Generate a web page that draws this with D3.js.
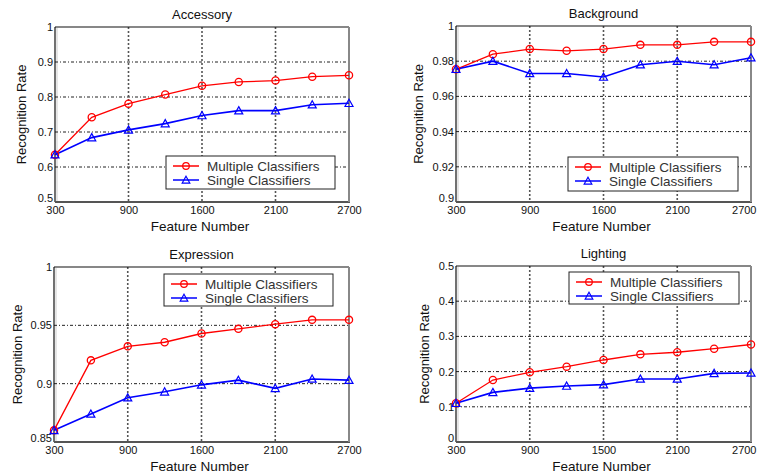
<!DOCTYPE html>
<html>
<head>
<meta charset="utf-8">
<script src="https://cdn.jsdelivr.net/npm/d3@7"></script>
<style>
  html, body { margin: 0; padding: 0; background: #fff; }
  svg { display: block; font-family: "Liberation Sans", Arial, Helvetica, sans-serif; }
</style>
</head>
<body>
<svg id="chart" width="757" height="475"></svg>
<script>
// ---------- DATA ----------
const features = [300, 600, 900, 1200, 1500, 1800, 2100, 2400, 2700];
const xTickValues = [300, 900, 1500, 2100, 2700];

const titles = ["Accessory", "Background", "Expression", "Lighting"];
const seriesNames = ["Multiple Classifiers", "Single Classifiers"];

const accessoryMultiple = [0.635, 0.742, 0.781, 0.807, 0.832, 0.843, 0.847, 0.858, 0.862];
const accessorySingle   = [0.635, 0.684, 0.706, 0.724, 0.747, 0.761, 0.761, 0.778, 0.782];

const backgroundMultiple = [0.9754, 0.9840, 0.9869, 0.9859, 0.9869, 0.9893, 0.9893, 0.9910, 0.9910];
const backgroundSingle   = [0.9754, 0.9800, 0.9730, 0.9730, 0.9710, 0.9780, 0.9800, 0.9780, 0.9820];

const expressionMultiple = [0.860, 0.920, 0.932, 0.9355, 0.943, 0.947, 0.951, 0.9547, 0.9547];
const expressionSingle   = [0.860, 0.874, 0.888, 0.893, 0.899, 0.903, 0.896, 0.904, 0.903];

const lightingMultiple = [0.110, 0.176, 0.198, 0.214, 0.233, 0.249, 0.255, 0.265, 0.277];
const lightingSingle   = [0.110, 0.141, 0.153, 0.159, 0.163, 0.179, 0.179, 0.195, 0.196];

const accessoryYTicks  = [0.5, 0.6, 0.7, 0.8, 0.9, 1];
const backgroundYTicks = [0.9, 0.92, 0.94, 0.96, 0.98, 1];
const expressionYTicks = [0.85, 0.9, 0.95, 1];
const lightingYTicks   = [0, 0.1, 0.2, 0.3, 0.4, 0.5];

const accessoryXLabels  = ["300", "900", "1600", "2100", "2700"];
const backgroundXLabels = ["300", "900", "1600", "2100", "2700"];
const expressionXLabels = ["300", "900", "1600", "2100", "2700"];
const lightingXLabels   = ["300", "900", "1500", "2100", "2700"];

// ---------- LAYOUT ----------
const panels = [
  { title: titles[0], multi: accessoryMultiple, single: accessorySingle, yTicks: accessoryYTicks, xLabels: accessoryXLabels,
    box: { l: 55, r: 349, t: 27, b: 202 }, legend: { x: 166, y: 156, w: 169, h: 33 }, ylabOff: 34 },
  { title: titles[1], multi: backgroundMultiple, single: backgroundSingle, yTicks: backgroundYTicks, xLabels: backgroundXLabels,
    box: { l: 456, r: 751, t: 26, b: 202 }, legend: { x: 568, y: 157, w: 170, h: 34 }, ylabOff: 38 },
  { title: titles[2], multi: expressionMultiple, single: expressionSingle, yTicks: expressionYTicks, xLabels: expressionXLabels,
    box: { l: 54, r: 349, t: 267, b: 442 }, legend: { x: 164, y: 274, w: 169, h: 32 }, ylabOff: 37 },
  { title: titles[3], multi: lightingMultiple, single: lightingSingle, yTicks: lightingYTicks, xLabels: lightingXLabels,
    box: { l: 456, r: 751, t: 266, b: 442 }, legend: { x: 569, y: 272, w: 170, h: 32 }, ylabOff: 32 }
];

const RED = "#ff0000", BLUE = "#0000ff";
const svg = d3.select("#chart");
const W = 757;

function fmtY(v) {
  if (v === 0 || v === 1) return String(v);
  return String(+v.toFixed(2));
}

function triPath(cx, cy, s) {
  return `M${cx},${cy - s}L${cx + s},${cy + s * 0.8}L${cx - s},${cy + s * 0.8}Z`;
}

panels.forEach(p => {
  const { l, r, t, b } = p.box;
  const x = d3.scaleLinear().domain([features[0], features[features.length - 1]]).range([l, r]);
  const y = d3.scaleLinear().domain([p.yTicks[0], p.yTicks[p.yTicks.length - 1]]).range([b, t]);
  const g = svg.append("g");

  // background
  g.append("rect").attr("x", l).attr("y", t).attr("width", r - l).attr("height", b - t).attr("fill", "#fff");
  g.append("rect").attr("x", l + 1).attr("y", t + 1).attr("width", 2).attr("height", b - t - 2).attr("fill", "#e6e6e6");

  // grid: horizontal
  g.append("g").selectAll("line").data(p.yTicks.slice(1, -1)).join("line")
    .attr("x1", l).attr("x2", r).attr("y1", d => y(d)).attr("y2", d => y(d))
    .attr("stroke", "#222").attr("stroke-width", 1).attr("stroke-dasharray", "3,2,1,2");
  // grid: vertical
  g.append("g").selectAll("line").data(xTickValues.slice(1, -1)).join("line")
    .attr("x1", d => x(d)).attr("x2", d => x(d)).attr("y1", t).attr("y2", b)
    .attr("stroke", "#555").attr("stroke-width", 1.6).attr("stroke-dasharray", "2,2");

  // frame
  g.append("line").attr("x1", l).attr("x2", r).attr("y1", t).attr("y2", t).attr("stroke", "#111").attr("stroke-width", 1.2);
  g.append("line").attr("x1", l).attr("x2", l).attr("y1", t).attr("y2", b).attr("stroke", "#111").attr("stroke-width", 1.2);
  g.append("line").attr("x1", l).attr("x2", r + 1).attr("y1", b).attr("y2", b).attr("stroke", "#555").attr("stroke-width", 2);
  g.append("line").attr("x1", r).attr("x2", r).attr("y1", t).attr("y2", b).attr("stroke", "#888").attr("stroke-width", 2);

  // axes ticks (labels)
  const yAxis = d3.axisLeft(y).tickValues(p.yTicks).tickSize(0).tickPadding(2).tickFormat(fmtY);
  const ya = g.append("g").attr("transform", `translate(${l},0)`).call(yAxis);
  ya.select(".domain").remove();
  ya.selectAll("text").attr("font-size", 11).attr("fill", "#111")
    .attr("dy", (d, i) => i === 0 ? "-0.05em" : "0.32em");

  const xAxis = d3.axisBottom(x).tickValues(xTickValues).tickSize(0).tickPadding(4)
    .tickFormat((d, i) => p.xLabels[i]);
  const xa = g.append("g").attr("transform", `translate(0,${b})`).call(xAxis);
  xa.select(".domain").remove();
  xa.selectAll("text").attr("font-size", 11).attr("fill", "#111");
  // keep the last label inside the picture when the axis reaches the right edge
  xa.selectAll(".tick").filter((d, i) => i === xTickValues.length - 1 && r > W - 20)
    .select("text").attr("text-anchor", "end").attr("x", W - 1 - r);

  // titles
  g.append("text").attr("x", (l + r) / 2).attr("y", t - 8).attr("text-anchor", "middle")
    .attr("font-size", 13).attr("fill", "#111").text(p.title);
  g.append("text").attr("x", (l + r) / 2 - 2).attr("y", b + 29).attr("text-anchor", "middle")
    .attr("font-size", 13.5).attr("fill", "#111").text("Feature Number");
  g.append("text").attr("transform", `translate(${l - p.ylabOff},${(t + b) / 2}) rotate(-90)`)
    .attr("text-anchor", "middle").attr("dy", "0.35em")
    .attr("font-size", 13).attr("fill", "#111").text("Recognition Rate");

  // lines
  const line = d3.line().x((d, i) => x(features[i])).y(d => y(d));
  g.append("path").datum(p.multi).attr("d", line).attr("fill", "none").attr("stroke", RED).attr("stroke-width", 1.3);
  g.append("path").datum(p.single).attr("d", line).attr("fill", "none").attr("stroke", BLUE).attr("stroke-width", 1.6);

  g.append("g").selectAll("circle").data(p.multi).join("circle")
    .attr("cx", (d, i) => x(features[i])).attr("cy", d => y(d)).attr("r", 3.6)
    .attr("fill", "none").attr("stroke", RED).attr("stroke-width", 1.3);
  g.append("g").selectAll("path").data(p.single).join("path")
    .attr("d", (d, i) => triPath(x(features[i]), y(d), 4))
    .attr("fill", "none").attr("stroke", BLUE).attr("stroke-width", 1.2);

  // legend
  const L = p.legend;
  const lg = g.append("g");
  lg.append("rect").attr("x", L.x).attr("y", L.y).attr("width", L.w).attr("height", L.h)
    .attr("fill", "#fff").attr("stroke", "#222").attr("stroke-width", 1);
  const rows = [
    { name: seriesNames[0], color: RED, marker: "circle" },
    { name: seriesNames[1], color: BLUE, marker: "tri" }
  ];
  rows.forEach((row, i) => {
    const cy = L.y + 10 + i * 14;
    lg.append("line").attr("x1", L.x + 7).attr("x2", L.x + 33).attr("y1", cy).attr("y2", cy)
      .attr("stroke", row.color).attr("stroke-width", 1.5);
    if (row.marker === "circle") {
      lg.append("circle").attr("cx", L.x + 20).attr("cy", cy).attr("r", 3.3)
        .attr("fill", "none").attr("stroke", row.color).attr("stroke-width", 1.2);
    } else {
      lg.append("path").attr("d", triPath(L.x + 20, cy, 3.8))
        .attr("fill", "none").attr("stroke", row.color).attr("stroke-width", 1.2);
    }
    lg.append("text").attr("x", L.x + 41).attr("y", cy).attr("dy", "0.35em")
      .attr("font-size", 13.5).attr("fill", "#333").text(row.name);
  });
});
</script>
</body>
</html>
